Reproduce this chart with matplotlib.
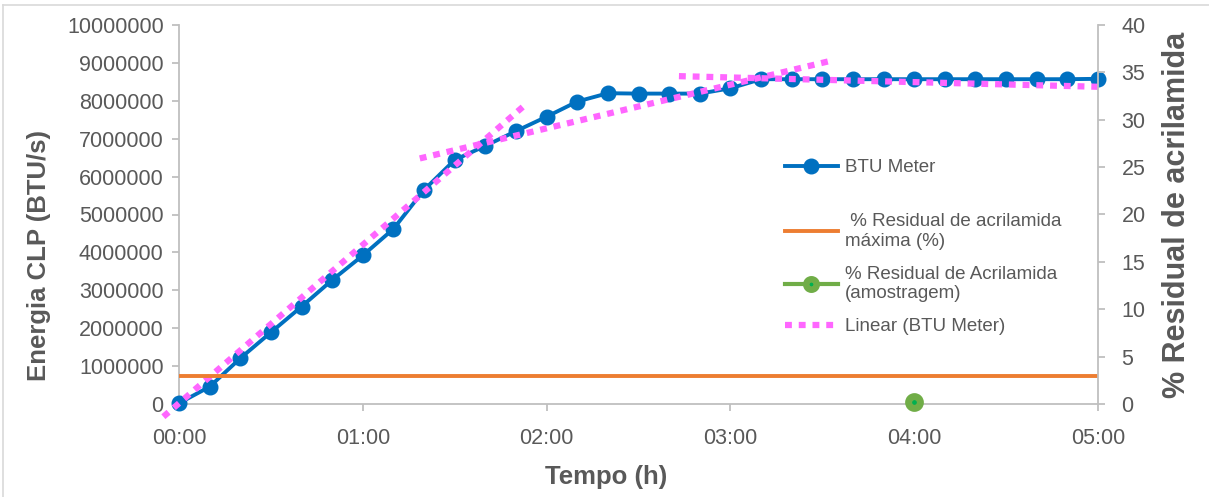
import matplotlib
matplotlib.use("Agg")
import matplotlib.pyplot as plt
from matplotlib.lines import Line2D
import numpy as np

# ---------------- data ----------------
# time in hours, every 10 minutes from 00:00 to 05:00
time_h = [i / 6 for i in range(31)]
btu_meter = [20000, 456000, 1206000, 1890000, 2570000, 3270000, 3920000, 4620000,
             5650000, 6440000, 6810000, 7200000, 7580000, 7980000, 8200000, 8190000,
             8190000, 8190000, 8330000, 8570000, 8570000, 8570000, 8570000, 8570000,
             8570000, 8570000, 8570000, 8570000, 8570000, 8570000, 8580000]
max_residual_time = [0.0, 5.0]
max_residual_pct = [3.0, 3.0]
sample_time = [4.0]
sample_residual_pct = [0.2]
# linear trendlines (BTU Meter): start hour, end hour, slope (BTU/s per h), intercept
trend_start = [-0.085, 1.31, 2.72]
trend_end = [1.89, 3.55, 5.0]
trend_slope = [4180000, 1152000, -123000]
trend_intercept = [20000, 4970000, 8985000]

xtick_hours = [0, 1, 2, 3, 4, 5]
xtick_labels = ["00:00", "01:00", "02:00", "03:00", "04:00", "05:00"]
left_ticks = list(range(0, 10000001, 1000000))
right_ticks = list(range(0, 41, 5))

# ---------------- style ----------------
plt.rcParams['font.family'] = ['Liberation Sans', 'DejaVu Sans']
GRAY = '#595959'
AXC = '#BFBFBF'
BLUE = '#0070C0'
ORANGE = '#ED7D31'
GREEN = '#70AD47'
GREEN_IN = '#00B050'
PINK = '#FF66FF'

fig = plt.figure(figsize=(12.09, 4.97), dpi=100)
ax = fig.add_axes([179/1209, 1-404/497, (1098-179)/1209, (404-25)/497])
ax2 = ax.twinx()

# border of the chart area
fig.add_artist(Line2D([3/1209, 3/1209], [0, 1-5/497], color='#D9D9D9', lw=1.2,
                      transform=fig.transFigure))
fig.add_artist(Line2D([3/1209, 1], [1-5/497, 1-5/497], color='#D9D9D9', lw=1.2,
                      transform=fig.transFigure))

# trendlines
for s, e, m, b in zip(trend_start, trend_end, trend_slope, trend_intercept):
    tx = np.array([s, e])
    ax.plot(tx, m * tx + b, color=PINK, lw=4.5, linestyle=(0, (1.1, 1.1)),
            dash_capstyle='butt', clip_on=False, zorder=4)

# BTU meter
ax.plot(time_h, btu_meter, color=BLUE, lw=2.8, marker='o', ms=10.5,
        clip_on=False, zorder=3)

# residual series on right axis
ax2.plot(max_residual_time, max_residual_pct, color=ORANGE, lw=2.8, zorder=2)
ax2.plot(sample_time, sample_residual_pct, color=GREEN, lw=3, marker='o', ms=8.5,
         mfc=GREEN_IN, mec=GREEN, mew=5, clip_on=False, zorder=5)

ax.set_xlim(0, 5)
ax.set_ylim(0, 10000000)
ax2.set_ylim(0, 40)
ax.set_xticks(xtick_hours)
ax.set_xticklabels(xtick_labels)
ax.set_yticks(left_ticks)
ax.set_yticklabels([str(v) for v in left_ticks])
ax2.set_yticks(right_ticks)
ax2.set_yticklabels([str(v) for v in right_ticks])

for a in (ax, ax2):
    for sp in a.spines.values():
        sp.set_visible(False)
ax.spines['left'].set_visible(True)
ax.spines['bottom'].set_visible(True)
ax2.spines['right'].set_visible(True)
for sp in (ax.spines['left'], ax.spines['bottom'], ax2.spines['right']):
    sp.set_color(AXC)
    sp.set_linewidth(1.3)

ax.tick_params(axis='both', colors=AXC, labelcolor=GRAY, labelsize=15.5,
               length=5, width=1.3, direction='out')
ax.tick_params(axis='x', pad=12)
ax.tick_params(axis='y', pad=6)
ax2.tick_params(axis='y', colors=AXC, labelcolor=GRAY, labelsize=15.5,
                length=5, width=1.3, direction='out', pad=12)

ax.set_xlabel('Tempo (h)', fontsize=18.5, fontweight='bold', color=GRAY)
ax.xaxis.set_label_coords(0.465, -0.16)
ax.set_ylabel('Energia CLP (BTU/s)', fontsize=18.5, fontweight='bold', color=GRAY)
ax.yaxis.set_label_coords(-0.1393, 0.393)
ax2.set_ylabel('% Residual de acrilamida', fontsize=22, fontweight='bold',
               color=GRAY, labelpad=12)

# legend (two blocks, as in the original layout)
h_btu = Line2D([], [], color=BLUE, lw=2.8, marker='o', ms=10.5)
h_max = Line2D([], [], color=ORANGE, lw=2.8)
h_smp = Line2D([], [], color=GREEN, lw=3, marker='o', ms=7.5, mfc=GREEN_IN, mec=GREEN,
               mew=4.7)
h_lin = Line2D([], [], color=PINK, lw=4.5, linestyle=(0, (1.1, 1.1)),
               dash_capstyle='butt')
common = dict(loc='upper left', frameon=False, fontsize=13.5, borderpad=0,
              borderaxespad=0, handlelength=2.85, handletextpad=0.38, numpoints=1)
leg1 = ax2.legend([h_btu], ['BTU Meter'], bbox_to_anchor=(0.659, (404-159)/379),
                  **common)
ax2.add_artist(leg1)
leg2 = ax2.legend([h_max, h_smp, h_lin],
                  [' % Residual de acrilamida\nmáxima (%)',
                   '% Residual de Acrilamida\n(amostragem)', 'Linear (BTU Meter)'],
                  bbox_to_anchor=(0.659, (404-213)/379), labelspacing=0.85, **common)
for lg in (leg1, leg2):
    for t in lg.get_texts():
        t.set_color(GRAY)

fig.savefig('out.png', dpi=100, facecolor='white')
